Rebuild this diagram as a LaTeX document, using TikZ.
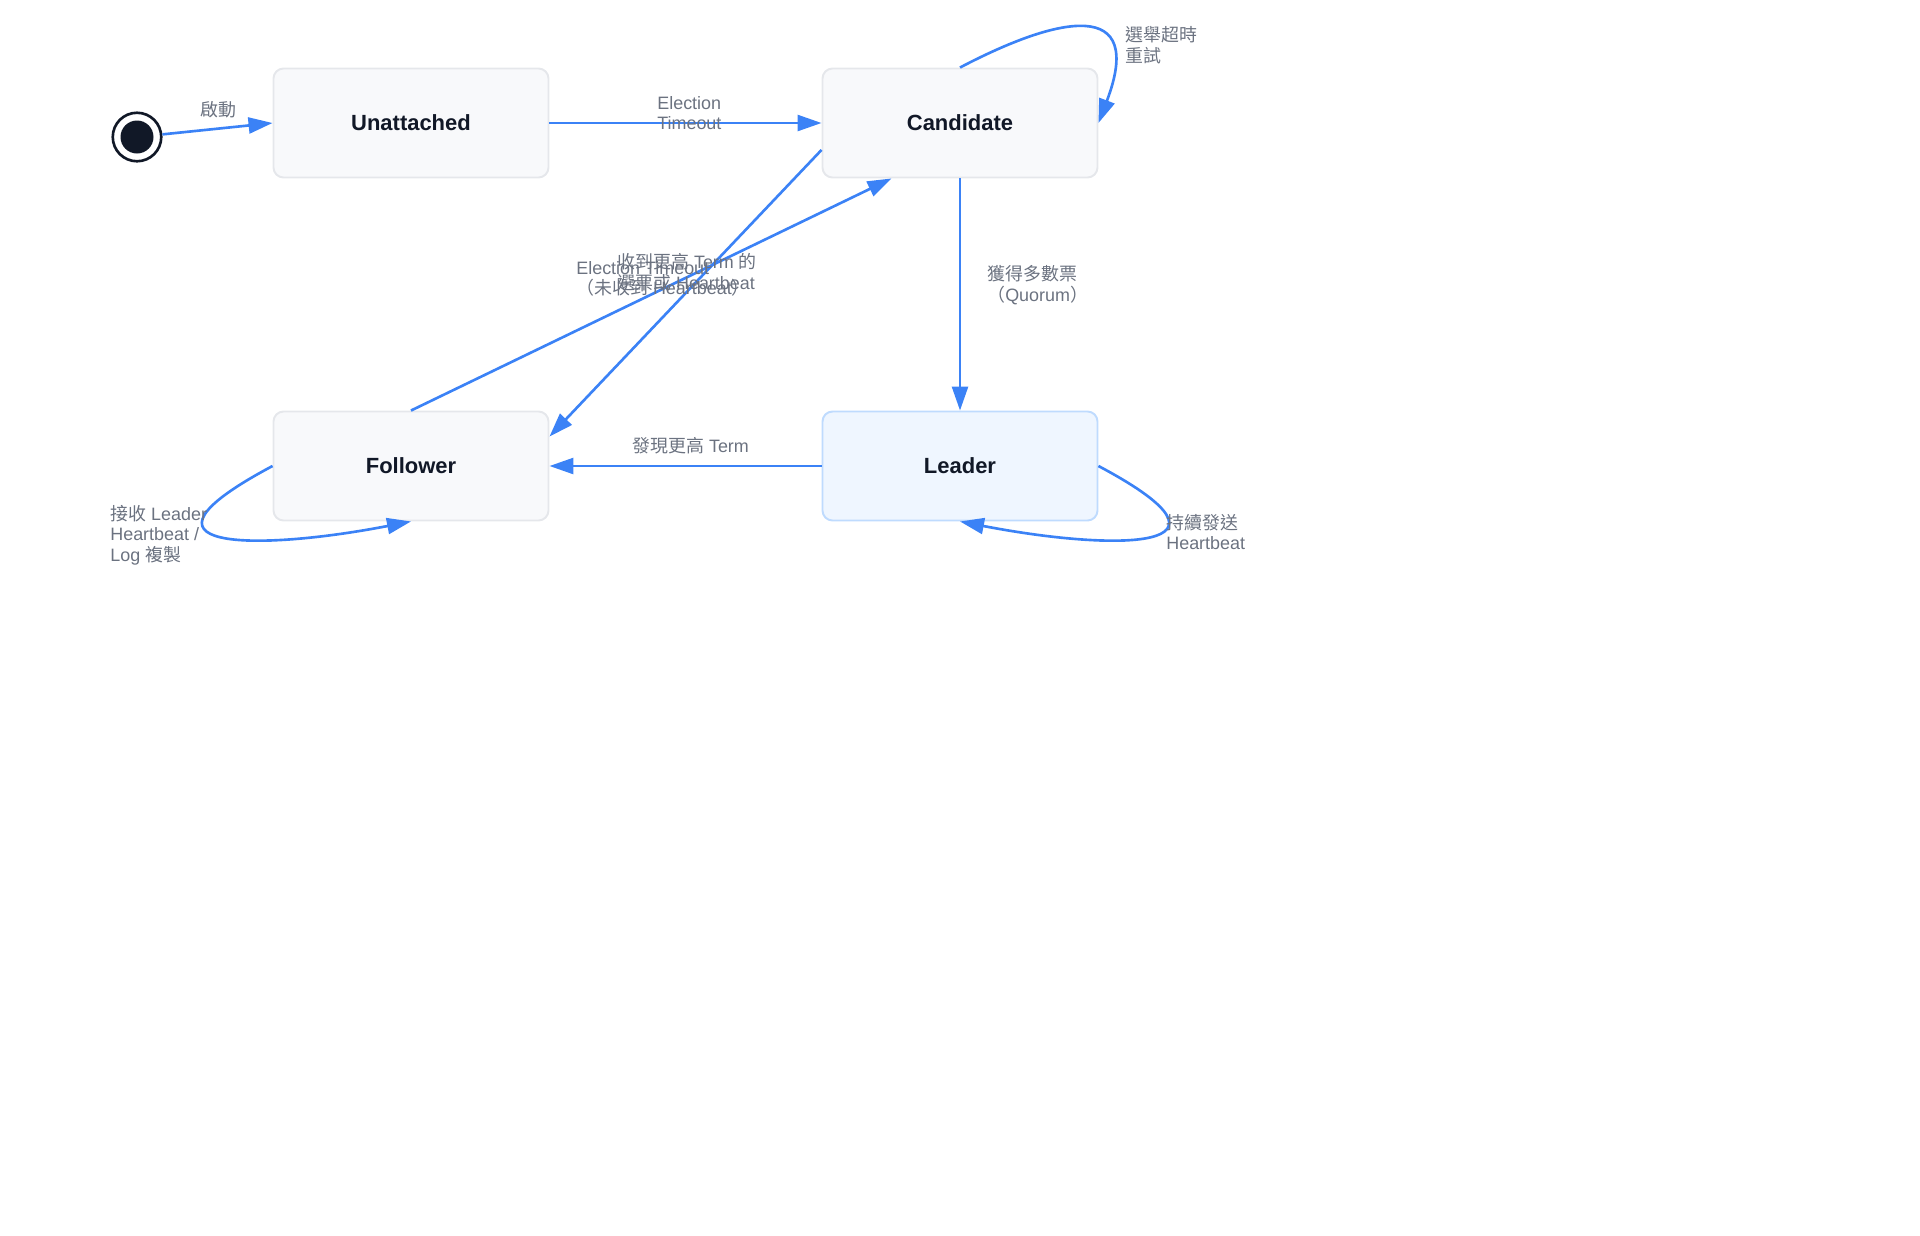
\documentclass[tikz,border=0pt]{standalone}
\usepackage{fontspec}
\setmainfont{Liberation Sans}
\newfontfamily\cjkfont{Noto Sans CJK TC}
\newcommand{\zh}[1]{{\cjkfont #1}}
\usetikzlibrary{arrows.meta}
\definecolor{azul}{HTML}{3B82F6}
\definecolor{gristexto}{HTML}{6B7280}
\definecolor{oscuro}{HTML}{111827}
\definecolor{fondocaja}{HTML}{F8F9FB}
\definecolor{bordecaja}{HTML}{E5E7EB}
\definecolor{fondolider}{HTML}{EFF6FF}
\definecolor{bordelider}{HTML}{BFDBFE}
\tikzset{
  estado/.style   = {draw=bordecaja, fill=fondocaja, line width=1.1pt, rounded corners=0.2cm,
                     minimum width=5.5cm, minimum height=2.18cm, inner sep=0pt,
                     text=oscuro, font=\fontsize{12.5pt}{15pt}\selectfont\bfseries},
  lider/.style    = {estado, draw=bordelider, fill=fondolider},
  inicio/.style   = {circle, draw=oscuro, line width=1.5pt, minimum size=0.97cm, inner sep=0pt},
  flecha/.style   = {-{Triangle[length=0.48cm, width=0.32cm]}, azul, line width=1.5pt},
  etiqueta/.style = {text=gristexto, font=\fontsize{10.2pt}{11.6pt}\selectfont,
                     align=left, anchor=west, inner sep=0pt}
}

\begin{document}
\begin{tikzpicture}
  \useasboundingbox (0,0) rectangle (38.4,-24.7);

  \node[inicio] (ini) at (2.74,-2.74) {};
  \fill[oscuro] (ini.center) circle (0.33);

  \node[estado] (unatt) at (8.22,-2.46) {Unattached};
  \node[estado] (cand)  at (19.2,-2.46) {Candidate};
  \node[estado] (fol)   at (8.22,-9.32) {Follower};
  \node[lider]  (lead)  at (19.2,-9.32) {Leader};

  \draw[flecha] (ini) -- (unatt.west);
  \draw[flecha] (unatt) -- (cand);
  \draw[flecha] (cand.north) .. controls +(2.0,1.05) and +(0.95,2.5) .. (cand.east);
  \draw[flecha] (cand.191) -- (fol.12);
  \draw[flecha] (fol.north) -- (cand.219);
  \draw[flecha] (cand) -- (lead);
  \draw[flecha] (lead) -- (fol);
  \draw[flecha] (fol.west) .. controls +(-3.2,-1.7) and +(-3.1,-0.6) .. (fol.south);
  \draw[flecha] (lead.east) .. controls +(3.2,-1.7) and +(3.1,-0.6) .. (lead.south);

  \node[etiqueta] (tinicio)  at (4.0,-2.2)    {\zh{啟動}};
  \node[etiqueta] (ttimeout) at (13.14,-2.26) {Election\\Timeout};
  \node[etiqueta] (treint)   at (22.5,-0.9)   {\zh{選舉超時}\\\zh{重試}};
  \node[etiqueta] (tvoto)    at (12.34,-5.44) {\zh{收到更高} Term \zh{的}\\\zh{選票或} Heartbeat};
  \node[etiqueta] (tsin)     at (11.52,-5.58) {Election Timeout\\\zh{（未收到} Heartbeat\zh{）}};
  \node[etiqueta] (tquorum)  at (19.74,-5.7)  {\zh{獲得多數票}\\\zh{（}Quorum\zh{）}};
  \node[etiqueta] (tterm)    at (12.64,-8.92) {\zh{發現更高} Term};
  \node[etiqueta] (trecibe)  at (2.2,-10.7)   {\zh{接收} Leader\\Heartbeat /\\Log \zh{複製}};
  \node[etiqueta] (tenvia)   at (23.32,-10.64) {\zh{持續發送}\\Heartbeat};
\end{tikzpicture}
\end{document}
